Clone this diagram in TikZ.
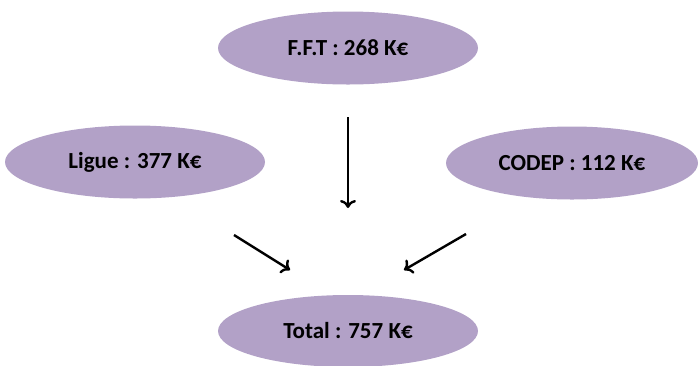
\documentclass[tikz,border=0pt]{standalone}
\usepackage{fontspec}
\setmainfont{Carlito}
\usetikzlibrary{shapes.geometric,arrows.meta}
\definecolor{lav}{HTML}{B2A1C7}
\begin{document}
\begin{tikzpicture}[x=1pt,y=-1pt,
  oval/.style={ellipse,fill=lav,draw=none,minimum width=260pt,minimum height=73pt,inner sep=0pt,font=\bfseries\fontsize{23}{27}\selectfont},
  arr/.style={line width=2.4pt,-{To[length=8pt,width=16pt,line width=2.4pt]}}]
\useasboundingbox (0,0) rectangle (698,365);
\node[oval] (fft) at (348,48) {F.F.T : 268 K€};
\node[oval] (ligue) at (135,162) {Ligue : 377 K€};
\node[oval,minimum width=252pt] (codep) at (572,163) {CODEP : 112 K€};
\node[oval,minimum height=72pt] (total) at (348,331) {Total : 757 K€};
\coordinate (a1) at (348,117);
\coordinate (b1) at (348,208);
\coordinate (a2) at (234,235);
\coordinate (b2) at (290,270);
\coordinate (a3) at (466,234);
\coordinate (b3) at (404,270);
\draw[arr] (a1) -- (b1);
\draw[arr] (a2) -- (b2);
\draw[arr] (a3) -- (b3);
\end{tikzpicture}
\end{document}
